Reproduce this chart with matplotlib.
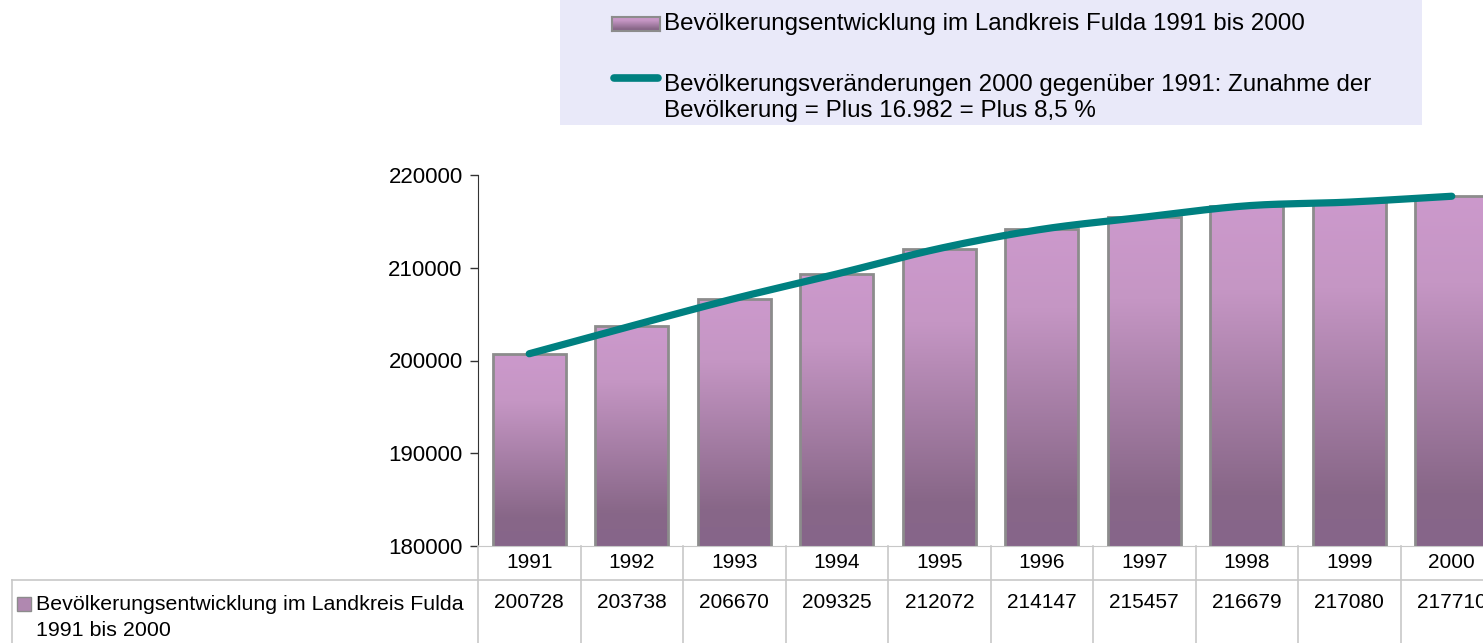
import matplotlib
matplotlib.use("Agg")
import matplotlib.pyplot as plt
import matplotlib.transforms as mtransforms
import numpy as np
from matplotlib.colors import LinearSegmentedColormap
from matplotlib.patches import Rectangle
from matplotlib.lines import Line2D

# data
years = ['1991', '1992', '1993', '1994', '1995', '1996', '1997', '1998', '1999', '2000']
population = [200728, 203738, 206670, 209325, 212072, 214147, 215457, 216679, 217080, 217710]
bar_label = 'Bevölkerungsentwicklung im Landkreis Fulda 1991 bis 2000'
line_label = ('Bevölkerungsveränderungen 2000 gegenüber 1991: Zunahme der\n'
              'Bevölkerung = Plus 16.982 = Plus 8,5 %')
table_label = 'Bevölkerungsentwicklung im Landkreis Fulda\n1991 bis 2000'
y_ticks = [180000, 190000, 200000, 210000, 220000]

plt.rcParams['font.family'] = ['Liberation Sans', 'DejaVu Sans']

W, H = 1483, 643
fig = plt.figure(figsize=(W / 100, H / 100), dpi=100)


def fx(px):
    return px / W


def fy(py):
    return 1 - py / H


BAR_TOP = '#CC99CC'
BAR_BOT = '#86658A'
TEAL = '#008080'
GRID = '#C8C8C8'

grad = LinearSegmentedColormap.from_list(
    'bar', [(0, BAR_BOT), (0.15, '#886788'), (0.75, '#C596C4'), (1, BAR_TOP)])

# axes reaches past the right edge, like the cropped original
ax = fig.add_axes([fx(478), fy(546), 1025 / W, (546 - 175) / H])
x = np.arange(len(years))
ax.set_xlim(-0.5, len(years) - 0.5)
ax.set_ylim(180000, 220000)

bars = ax.bar(x, population, width=0.71, color='none', edgecolor='#8C8C8C',
              linewidth=2, zorder=3)
g = np.linspace(0, 1, 256).reshape(-1, 1)
for b in bars:
    x0 = b.get_x()
    im = ax.imshow(g, cmap=grad, origin='lower', aspect='auto',
                   extent=[x0, x0 + b.get_width(), 180000, b.get_height()], zorder=2)
    im.set_clip_path(b)


def smooth(xs, ys, n=30):
    # Catmull-Rom curve through the points
    xs = np.asarray(xs, float)
    ys = np.asarray(ys, float)
    px = np.concatenate([[2 * xs[0] - xs[1]], xs, [2 * xs[-1] - xs[-2]]])
    py = np.concatenate([[2 * ys[0] - ys[1]], ys, [2 * ys[-1] - ys[-2]]])
    ox, oy = [], []
    t = np.linspace(0, 1, n)
    for i in range(1, len(px) - 2):
        for p, out in ((px, ox), (py, oy)):
            p0, p1, p2, p3 = p[i - 1], p[i], p[i + 1], p[i + 2]
            out.extend(0.5 * (2 * p1 + (-p0 + p2) * t + (2 * p0 - 5 * p1 + 4 * p2 - p3) * t ** 2
                              + (-p0 + 3 * p1 - 3 * p2 + p3) * t ** 3))
    return ox, oy


sx, sy = smooth(x, population)
ax.plot(sx, sy, color=TEAL, lw=5.2, solid_capstyle='round', zorder=5, clip_on=False)

ax.set_yticks(y_ticks)
ax.set_yticklabels([str(v) for v in y_ticks], fontsize=16)
ax.tick_params(axis='y', direction='out', length=6, width=1, pad=5, color='#333333')
ax.set_xticks([])
for s in ('top', 'right'):
    ax.spines[s].set_visible(False)
ax.spines['left'].set_color('#333333')
ax.spines['bottom'].set_color(GRID)

# data table under the axis
tr = mtransforms.blended_transform_factory(ax.transData, fig.transFigure)
for i in range(len(years) + 1):
    fig.add_artist(Line2D([i - 0.5, i - 0.5], [fy(546), 0], transform=tr, color=GRID, lw=1.2))
fig.add_artist(Line2D([fx(12), 1], [fy(580), fy(580)], transform=fig.transFigure, color=GRID, lw=1.2))
fig.add_artist(Line2D([fx(12), fx(12)], [fy(580), 0], transform=fig.transFigure, color=GRID, lw=1.2))
for i, (yr, v) in enumerate(zip(years, population)):
    fig.text(i, fy(563), yr, transform=tr, ha='center', va='center', fontsize=15)
    fig.text(i, fy(603), str(v), transform=tr, ha='center', va='center', fontsize=15)
fig.add_artist(Rectangle((fx(17), fy(611)), 14 / W, 14 / H, transform=fig.transFigure,
                         facecolor='#B088B0', edgecolor='#8C8C8C', lw=1))
fig.text(fx(36), fy(595), table_label, ha='left', va='top', fontsize=15.4, linespacing=1.45)

# legend box
fig.add_artist(Rectangle((fx(560), fy(125)), (1422 - 560) / W, 125 / H,
                         transform=fig.transFigure, facecolor='#E9E9F9', edgecolor='none',
                         zorder=0.5))
leg_im = fig.add_axes([fx(612), fy(31), 48 / W, 14 / H])
leg_im.set_zorder(3)
leg_im.imshow(g, cmap=grad, origin='lower', aspect='auto')
leg_im.set_xticks([])
leg_im.set_yticks([])
for s in leg_im.spines.values():
    s.set_color('#8C8C8C')
    s.set_linewidth(1.5)
fig.add_artist(Line2D([fx(614), fx(658)], [fy(78), fy(78)], transform=fig.transFigure,
                      color=TEAL, lw=5.5, solid_capstyle='round'))
fig.text(fx(664), fy(24), bar_label, ha='left', va='center', fontsize=17.4)
fig.text(fx(664), fy(98), line_label, ha='left', va='center', fontsize=17.4, linespacing=1.2)

fig.savefig('out.png', dpi=100)
